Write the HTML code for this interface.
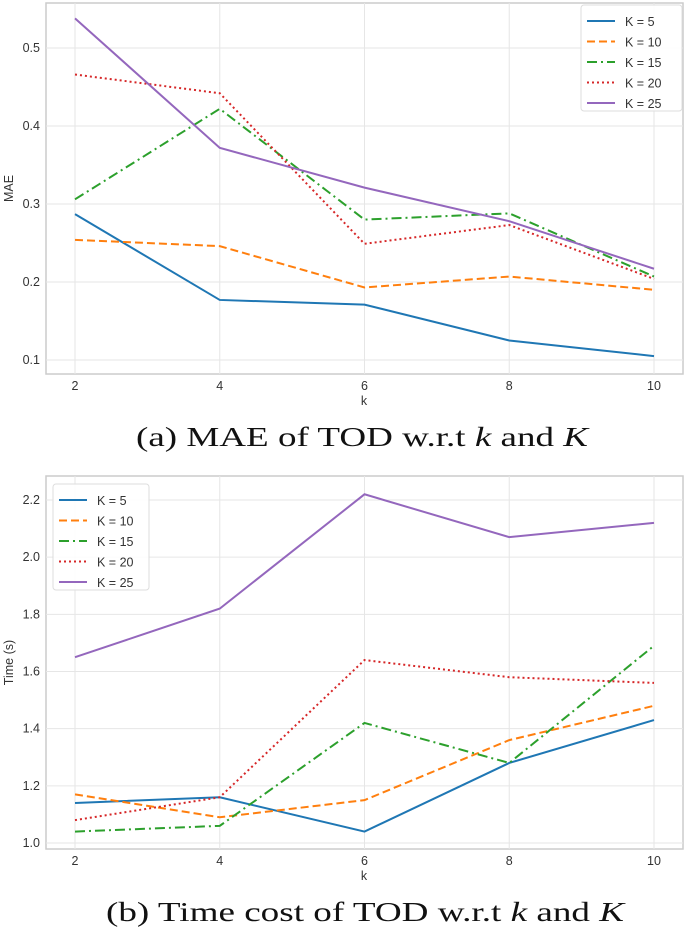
<!DOCTYPE html>
<html><head><meta charset="utf-8"><style>
body{margin:0;background:#fff;width:685px;height:929px;overflow:hidden}
svg{display:block}
.t{font-family:"Liberation Sans",sans-serif;font-size:12.5px;fill:#333}
.cap{font-family:"Liberation Serif",serif;font-size:27px;fill:#111}
</style></head><body>
<svg id="s" width="685" height="929"></svg>
<script>
const xCats=[2,4,6,8,10];
const seriesNames=["K = 5","K = 10","K = 15","K = 20","K = 25"];
const maeK5=[0.287,0.177,0.171,0.125,0.105];
const maeK10=[0.254,0.246,0.193,0.207,0.190];
const maeK15=[0.306,0.422,0.280,0.288,0.207];
const maeK20=[0.466,0.442,0.249,0.273,0.204];
const maeK25=[0.538,0.372,0.321,0.278,0.217];
const maeTicks=[0.1,0.2,0.3,0.4,0.5];
const timeK5=[1.14,1.16,1.04,1.28,1.43];
const timeK10=[1.17,1.09,1.15,1.36,1.48];
const timeK15=[1.04,1.06,1.42,1.28,1.69];
const timeK20=[1.08,1.16,1.64,1.58,1.56];
const timeK25=[1.65,1.82,2.22,2.07,2.12];
const timeTicks=[1.0,1.2,1.4,1.6,1.8,2.0,2.2];

const colors=["#1f77b4","#ff7f0e","#2ca02c","#d62728","#9467bd"];
const dashes=["","8,4","10,4,2,4","2,3",""];
const NS="http://www.w3.org/2000/svg";
const svg=document.getElementById('s');
function el(tag,attrs,parent){const e=document.createElementNS(NS,tag);for(const k in attrs)e.setAttribute(k,attrs[k]);(parent||svg).appendChild(e);return e;}

function chart(cfg){
  const g=el('g',{});
  
  
  const xs=v=>75+(v-2)*(654-75)/8;
  const ys=v=>cfg.y0px+(v-cfg.y0)*(cfg.y1px-cfg.y0px)/(cfg.y1-cfg.y0);
  const f=el('rect',{x:46,y:cfg.top,width:637,height:cfg.bottom-cfg.top,fill:'none',stroke:'#ccc','stroke-width':1.5},g);
  
  xCats.forEach(v=>{
    const l=el('line',{x1:xs(v),x2:xs(v),y1:cfg.top,y2:cfg.bottom,stroke:'#e6e6e6'},g);
    
    const t=el('text',{x:xs(v),y:cfg.bottom+16,'text-anchor':'middle',class:'t'},g);t.textContent=v;
    
  });
  cfg.ticks.forEach(v=>{
    const l=el('line',{x1:46,x2:683,y1:ys(v),y2:ys(v),stroke:'#e6e6e6'},g);
    
    const t=el('text',{x:40,y:ys(v)+4,'text-anchor':'end',class:'t'},g);t.textContent=v.toFixed(1);
    
  });
  const xl=el('text',{x:364,y:cfg.bottom+31,'text-anchor':'middle',class:'t','font-size':14},g);xl.textContent='k';
  
  const cy=(cfg.top+cfg.bottom)/2;
  const yl=el('text',{x:13,y:cy,'text-anchor':'middle',class:'t','font-size':13.5,transform:`rotate(-90 13 ${cy})`},g);yl.textContent=cfg.ylabel;
  
  cfg.series.forEach((s,i)=>{
    const p=el('polyline',{points:s.map((v,j)=>xs(xCats[j])+','+ys(v)).join(' '),fill:'none',stroke:colors[i],'stroke-width':2,'stroke-dasharray':dashes[i]},g);
    
    
  });
  const L=cfg.legend;
  const lg=el('g',{},g);
  
  el('rect',{x:L.x,y:L.y,width:L.w,height:106,rx:3,fill:'#fff','fill-opacity':0.85,stroke:'#ddd'},lg);
  seriesNames.forEach((n,i)=>{
    const yy=L.y+16+i*20.5;
    const e=el('g',{},lg);
    
    el('line',{x1:L.x+6,x2:L.x+34,y1:yy,y2:yy,stroke:colors[i],'stroke-width':2,'stroke-dasharray':dashes[i]},e);
    const t=el('text',{x:L.x+44,y:yy+5,class:'t','font-size':14},e);t.textContent=n;
  });
  const c=el('text',{x:cfg.capX,y:cfg.capY,class:'cap',textLength:cfg.capW,lengthAdjust:'spacingAndGlyphs'},g);
  c.innerHTML=cfg.caption;
  
}
chart({name:'mae-chart',top:3,bottom:374,y0:0.1,y1:0.5,y0px:360,y1px:48,ticks:maeTicks,ylabel:'MAE',
  series:[maeK5,maeK10,maeK15,maeK20,maeK25],legend:{x:581,y:5,w:101},capX:136,capW:452,capY:446,
  caption:'(a) MAE of TOD w.r.t <tspan font-style="italic">k</tspan> and <tspan font-style="italic">K</tspan>'});
chart({name:'time-chart',top:476,bottom:849,y0:1.0,y1:2.2,y0px:843,y1px:500,ticks:timeTicks,ylabel:'Time (s)',
  series:[timeK5,timeK10,timeK15,timeK20,timeK25],legend:{x:53,y:484,w:96},capX:106,capW:518,capY:921,
  caption:'(b) Time cost of TOD w.r.t <tspan font-style="italic">k</tspan> and <tspan font-style="italic">K</tspan>'});
</script>
</body></html>
